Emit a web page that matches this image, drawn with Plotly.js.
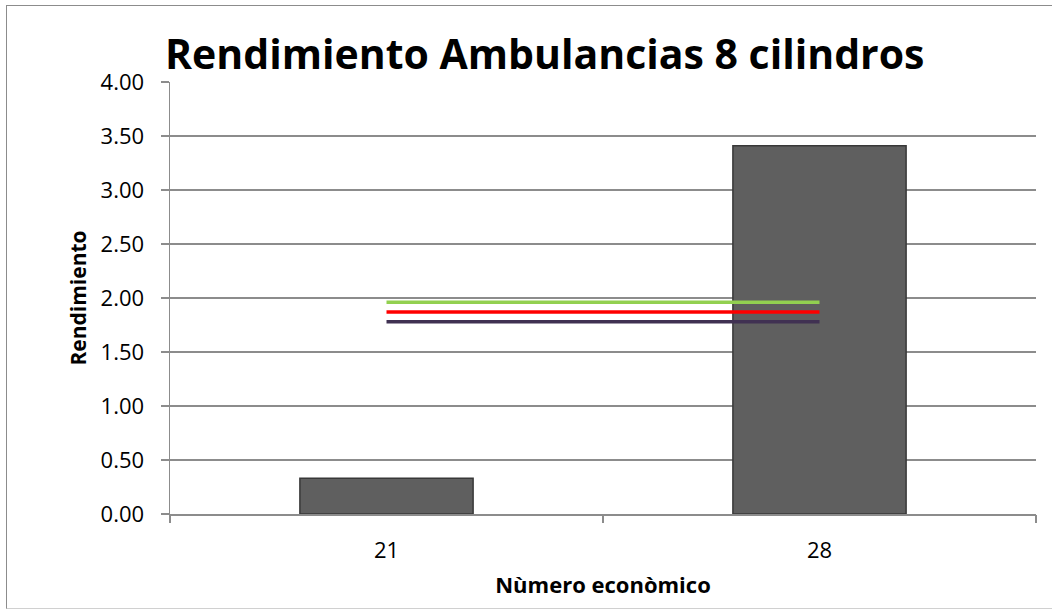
<!DOCTYPE html>
<html>
<head>
<meta charset="utf-8">
<script src="https://cdn.plot.ly/plotly-3.0.1.min.js"></script>
<style>
html,body{margin:0;padding:0;background:#fff;}
#wrap{position:relative;width:1052px;height:609px;}
#chart{width:1052px;height:609px;}
#frame{position:absolute;left:6px;top:5px;width:1060px;height:602px;border-left:1px solid #8c8c8c;border-top:1px solid #8c8c8c;border-bottom:1px solid #d0d0d0;pointer-events:none;}
</style>
</head>
<body>
<div id="wrap"><div id="chart"></div><div id="frame"></div></div>
<script>
const categories = ["21", "28"];
const rendimiento = [0.33, 3.41];
const lineGreen = [1.96, 1.96];
const lineRed = [1.87, 1.87];
const linePurple = [1.78, 1.78];
const yTicks = [0, 0.5, 1, 1.5, 2, 2.5, 3, 3.5, 4];

const xIdx = categories.map((c, i) => i);
const font = "'Open Sans', Lato, sans-serif";

const traces = [
  {type: 'bar', x: xIdx, y: rendimiento, width: 0.4,
   marker: {color: '#5f5f5f', line: {color: '#383838', width: 1.5}},
   hoverinfo: 'y', showlegend: false},
  {type: 'scatter', mode: 'lines', x: xIdx, y: lineGreen,
   line: {color: '#92d050', width: 3.5}, showlegend: false},
  {type: 'scatter', mode: 'lines', x: xIdx, y: lineRed,
   line: {color: '#ff0000', width: 3.5}, showlegend: false},
  {type: 'scatter', mode: 'lines', x: xIdx, y: linePurple,
   line: {color: '#403152', width: 3.5}, showlegend: false},
  {type: 'scatter', mode: 'markers', x: [-0.5, 1.5], y: [0, 0], xaxis: 'x2',
   marker: {opacity: 0}, hoverinfo: 'skip', showlegend: false}
];

const layout = {
  width: 1052, height: 609,
  margin: {l: 170, r: 16, t: 82, b: 95},
  paper_bgcolor: '#ffffff', plot_bgcolor: '#ffffff',
  font: {family: font, color: '#000'},
  title: {text: '<b>Rendimiento Ambulancias 8 cilindros</b>',
          font: {family: font, size: 41, color: '#000'},
          x: 165/1052, xanchor: 'left', y: 1 - 55/609, yanchor: 'middle'},
  xaxis: {
    range: [-0.5, 1.5], tickmode: 'array', tickvals: xIdx, ticktext: categories,
    ticks: '', showgrid: false, zeroline: false,
    showline: true, linecolor: '#8c8c8c', linewidth: 1.5,
    ticklabelstandoff: 16,
    tickfont: {family: font, size: 22, color: '#000'},
    title: {text: '<b>Nùmero econòmico</b>', font: {family: font, size: 22, color: '#000'}, standoff: 14}
  },
  xaxis2: {
    overlaying: 'x', side: 'bottom', anchor: 'y', range: [-0.5, 1.5],
    tickmode: 'array', tickvals: [-0.5, 0.5, 1.5], showticklabels: false,
    ticks: 'outside', ticklen: 8, tickwidth: 1.5, tickcolor: '#8c8c8c',
    showgrid: false, zeroline: false, showline: false
  },
  yaxis: {
    range: [0, 4], tickmode: 'array', tickvals: yTicks,
    ticktext: yTicks.map(v => v.toFixed(2)),
    ticks: 'outside', ticklen: 8, tickwidth: 1.5, tickcolor: '#8c8c8c',
    showgrid: true, gridcolor: '#8c8c8c', gridwidth: 1.5,
    zeroline: false, showline: true, linecolor: '#8c8c8c', linewidth: 1.5,
    ticklabelstandoff: 12,
    tickfont: {family: font, size: 22, color: '#000'},
    title: {text: '<b>Rendimiento</b>', font: {family: font, size: 21, color: '#000'}, standoff: 8}
  },
  bargap: 0.6
};

Plotly.newPlot('chart', traces, layout, {displayModeBar: false, staticPlot: true});
</script>
</body>
</html>
